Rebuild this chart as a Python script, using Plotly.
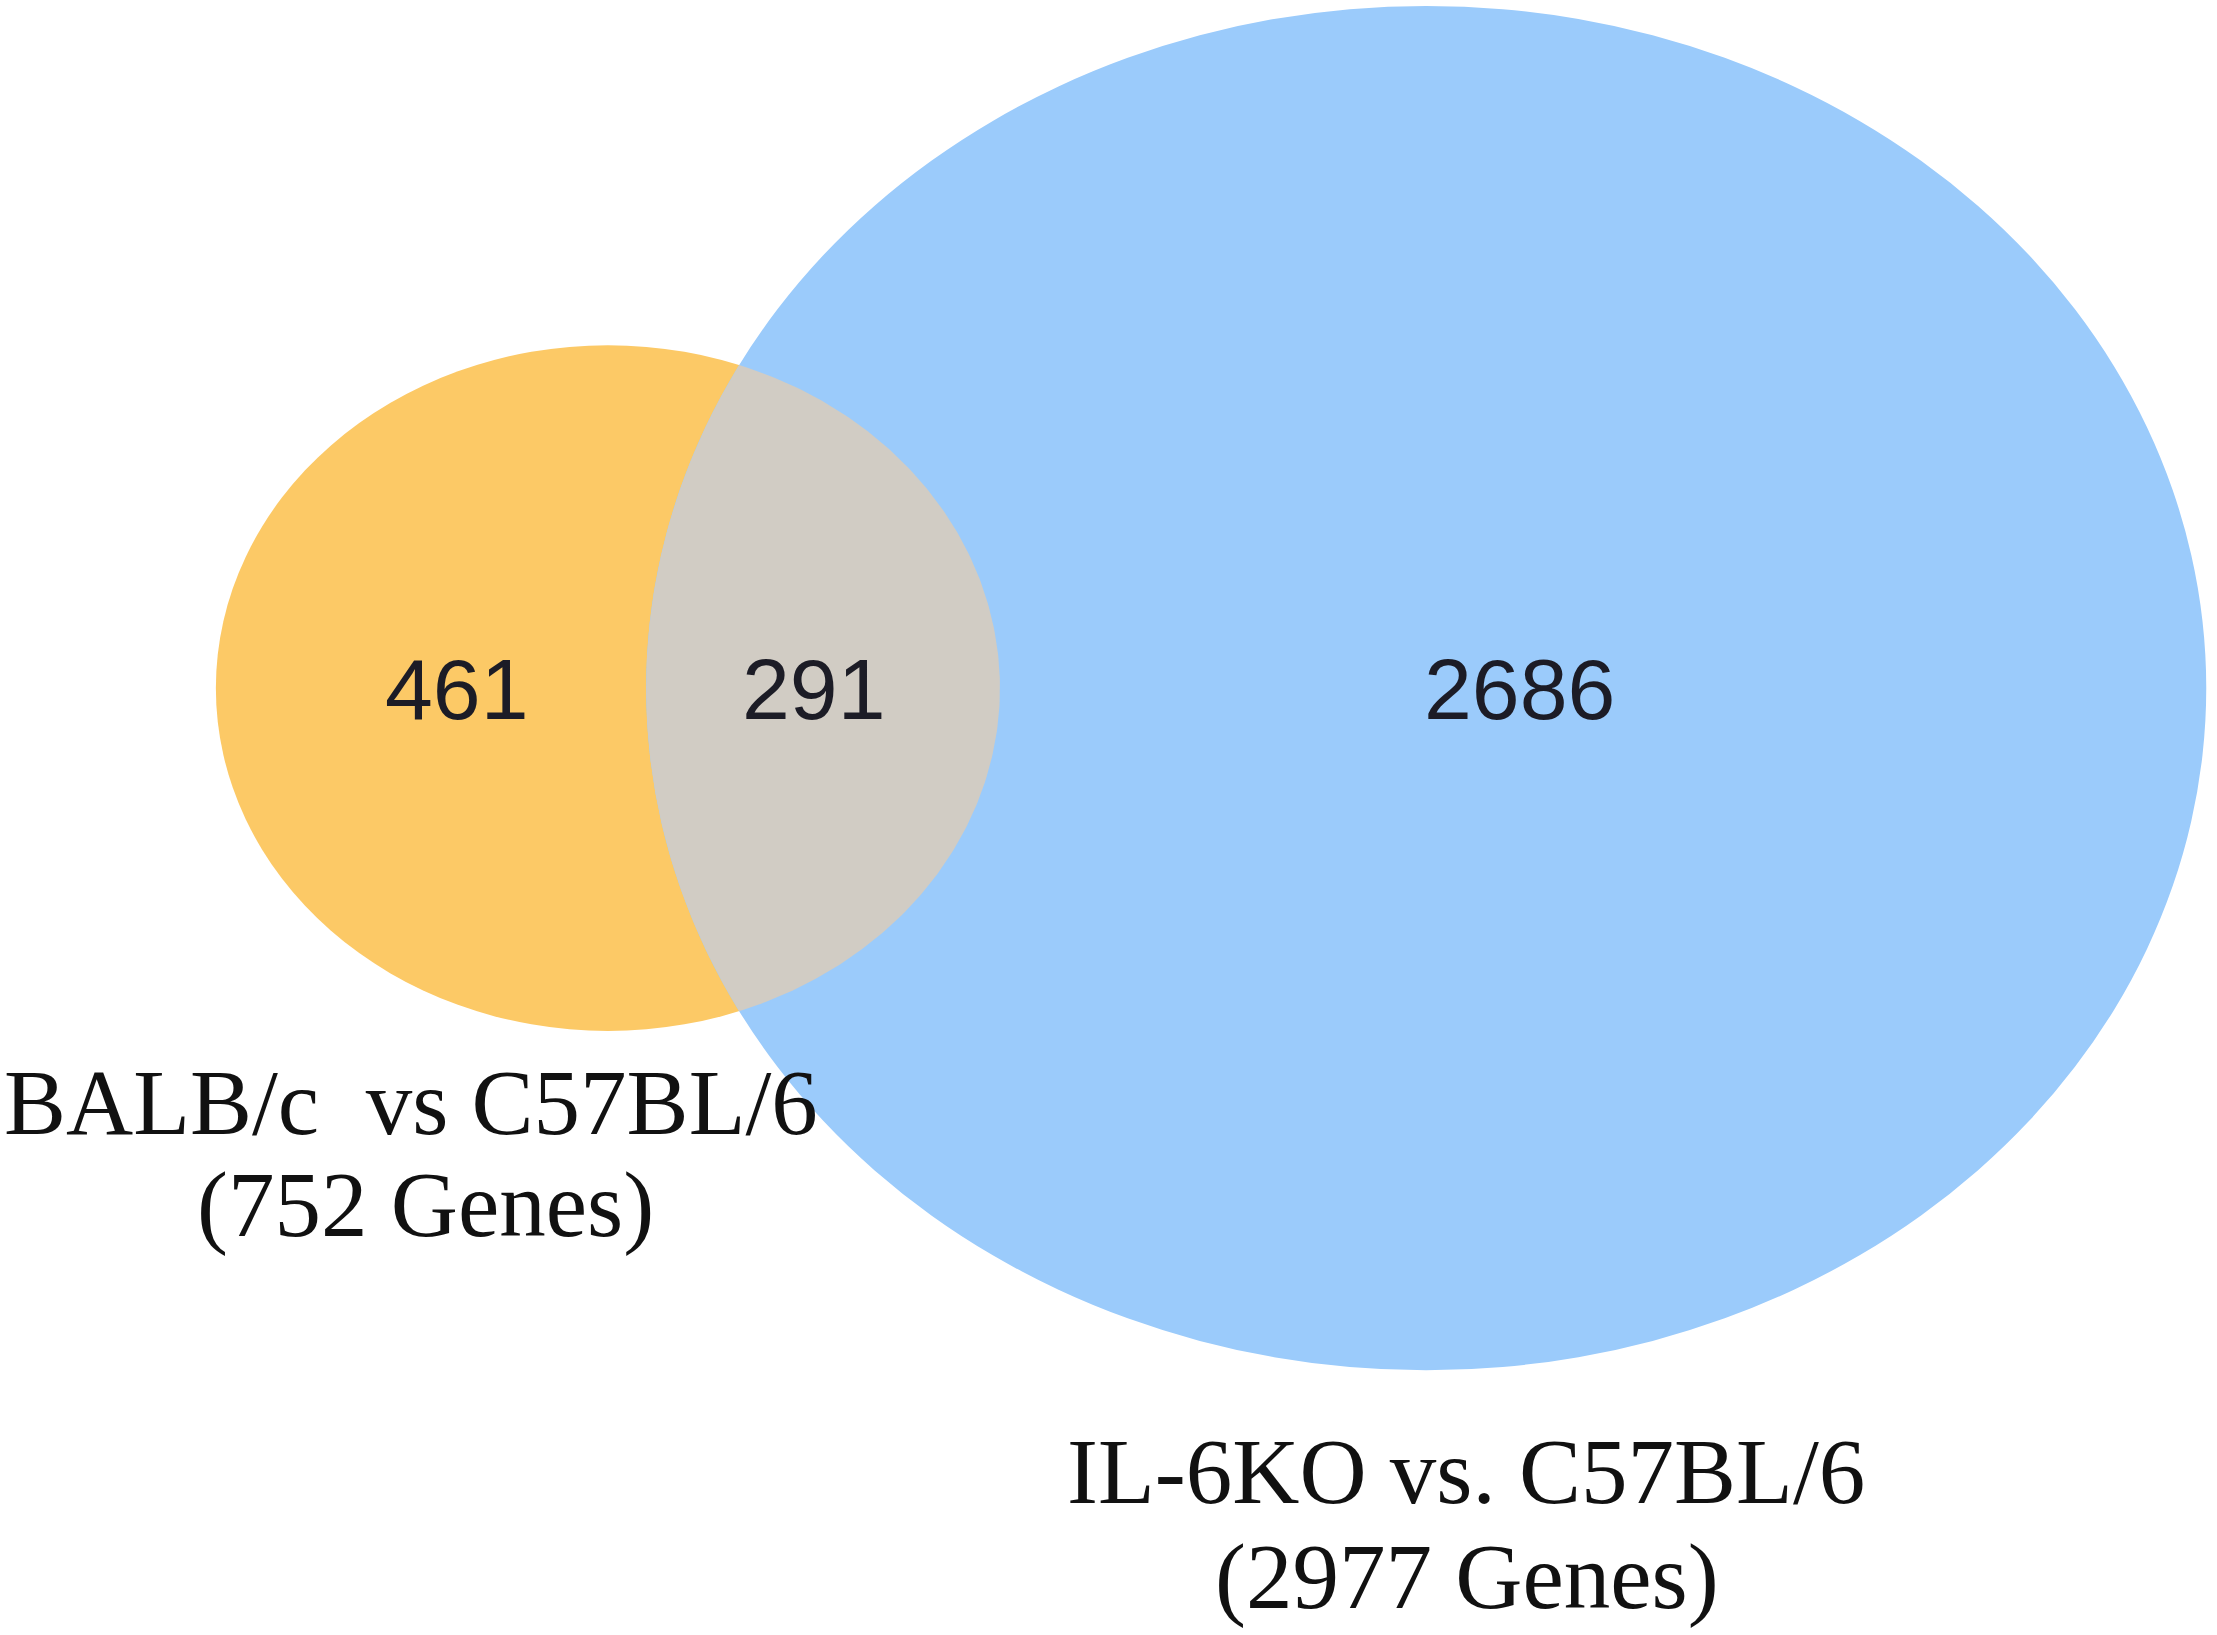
import numpy as np
import plotly.graph_objects as go

# Venn counts
set_names = ["BALB/c  vs C57BL/6", "IL-6KO vs. C57BL/6"]
set_totals = [752, 2977]
region_labels = ["461", "291", "2686"]   # A only, A and B, B only
overlap = 291

colors = ["#fcc966", "#9bcbfb", "#d1ccc4"]


# area proportional circles: radius from set size
def lens_area(r1, r2, d):
	d1 = (d * d - r2 * r2 + r1 * r1) / (2 * d)
	d2 = d - d1
	a1 = r1 * r1 * np.arccos(d1 / r1) - d1 * np.sqrt(r1 * r1 - d1 * d1)
	a2 = r2 * r2 * np.arccos(d2 / r2) - d2 * np.sqrt(r2 * r2 - d2 * d2)
	return a1 + a2


def centre_distance(r1, r2, area):
	lo, hi = abs(r2 - r1) + 1e-6, r1 + r2 - 1e-6
	for _ in range(80):
		mid = (lo + hi) / 2
		if lens_area(r1, r2, mid) > area:
			lo = mid
		else:
			hi = mid
	return (lo + hi) / 2


rA = np.sqrt(set_totals[0] / np.pi)
rB = np.sqrt(set_totals[1] / np.pi)
d = centre_distance(rA, rB, overlap)

# lens outline for the shared region
xi = (d * d - rB * rB + rA * rA) / (2 * d)
yi = np.sqrt(rA * rA - xi * xi)
tA = np.arctan2(yi, xi)
tB = np.arctan2(yi, d - xi)
angA = np.linspace(-tA, tA, 200)
angB = np.linspace(np.pi - tB, np.pi + tB, 200)
lens_x = np.concatenate([rA * np.cos(angA), d + rB * np.cos(angB)])
lens_y = np.concatenate([rA * np.sin(angA), rB * np.sin(angB)])

fig = go.Figure()
fig.add_trace(go.Scatter(x=lens_x, y=lens_y, fill="toself", fillcolor=colors[2],
	mode="lines", line=dict(width=0), hoverinfo="skip"))

shapes = [
	dict(type="circle", xref="x", yref="y", x0=-rA, x1=rA, y0=-rA, y1=rA,
		fillcolor=colors[0], line=dict(width=0), layer="below"),
	dict(type="circle", xref="x", yref="y", x0=d - rB, x1=d + rB, y0=-rB, y1=rB,
		fillcolor=colors[1], line=dict(width=0), layer="below"),
]

# count labels inside the regions
num_x = [-5.96, 8.13, 35.99]
for lab, x in zip(region_labels, num_x):
	fig.add_annotation(x=x, y=-0.05, text=lab, showarrow=False, xref="x", yref="y",
		font=dict(family="Liberation Sans, Arial", size=86, color="#1c1c26"))

# set names under the circles (pixel positions -> paper)
W, H = 2217, 1635
label_rows = [
	(set_names[0], 411, 1102),
	("(" + str(set_totals[0]) + " Genes)", 425, 1204),
	(set_names[1], 1466, 1471),
	("(" + str(set_totals[1]) + " Genes)", 1467, 1576),
]
for txt, px, py in label_rows:
	fig.add_annotation(x=px / W, y=1 - py / H, xref="paper", yref="paper", text=txt,
		showarrow=False, xanchor="center", yanchor="middle",
		font=dict(family="Liberation Serif, Times New Roman", size=93, color="#111111"))

fig.update_layout(
	width=W, height=H,
	margin=dict(l=0, r=0, t=0, b=0),
	paper_bgcolor="white", plot_bgcolor="white",
	showlegend=False, shapes=shapes,
	xaxis=dict(range=[-23.99, 63.5], visible=False, fixedrange=True),
	yaxis=dict(range=[-42.73, 31.05], visible=False, fixedrange=True),
)
fig.write_html("out.html", config={"displayModeBar": False},
	post_script="document.body.style.margin='0px';")
